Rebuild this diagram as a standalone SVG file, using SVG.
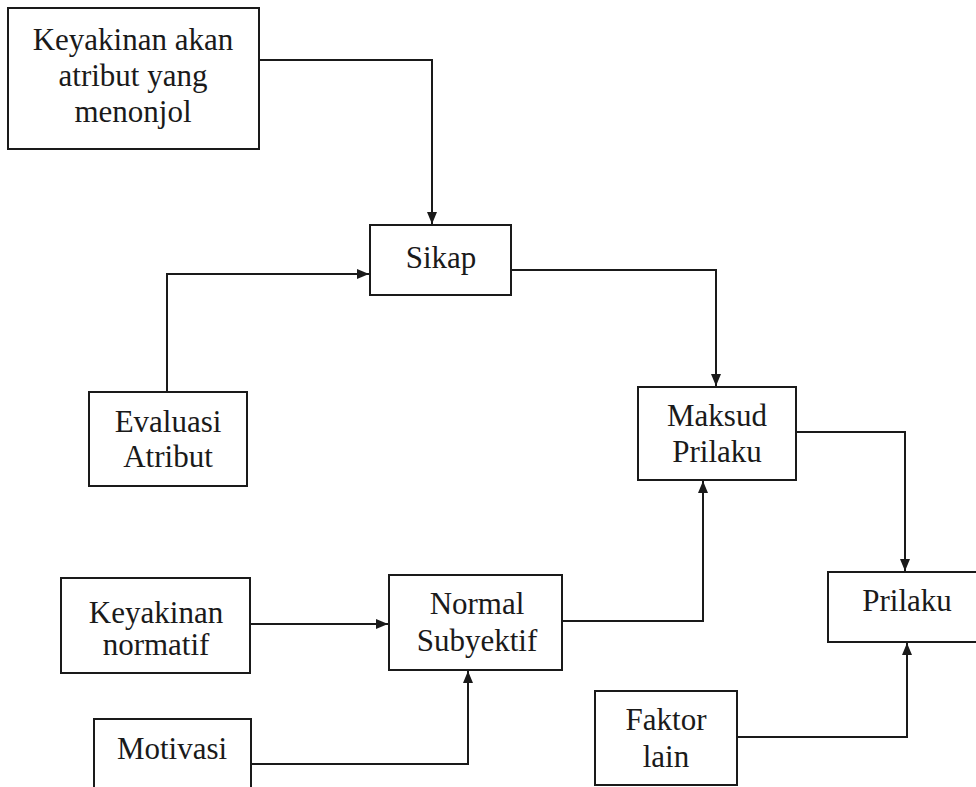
<svg xmlns="http://www.w3.org/2000/svg" width="976" height="787" viewBox="0 0 976 787">
<style>
.box{fill:#fff;stroke:#1a1a1a;stroke-width:2}
.t{font-family:'Liberation Serif','Times New Roman',serif;font-size:31px;fill:#1a1a1a;text-anchor:middle}
.c{fill:none;stroke:#1a1a1a;stroke-width:2}
</style>
<defs>
<marker id="ah" viewBox="0 0 12 10" refX="12" refY="5" markerWidth="12" markerHeight="10" markerUnits="userSpaceOnUse" orient="auto">
<path d="M0,0 L12,5 L0,10 Z" fill="#1a1a1a"/>
</marker>
</defs>
<rect width="976" height="787" fill="#fff"/>
<g id="connectors">
<path class="c" d="M259,60 H432 V224" marker-end="url(#ah)"/>
<path class="c" d="M167,392 V274 H369" marker-end="url(#ah)"/>
<path class="c" d="M511,270 H716 V386" marker-end="url(#ah)"/>
<path class="c" d="M796,432 H905 V571" marker-end="url(#ah)"/>
<path class="c" d="M250,624 H388" marker-end="url(#ah)"/>
<path class="c" d="M251,764 H468 V671" marker-end="url(#ah)"/>
<path class="c" d="M562,621 H703 V481" marker-end="url(#ah)"/>
<path class="c" d="M737,737 H907 V643" marker-end="url(#ah)"/>
</g>
<g id="keyakinan-atribut">
<rect class="box" x="8" y="8" width="251" height="141"/>
<text class="t" x="133" y="50">Keyakinan akan</text>
<text class="t" x="133" y="86">atribut yang</text>
<text class="t" x="133" y="122">menonjol</text>
</g>
<g id="sikap">
<rect class="box" x="370" y="225" width="141" height="70"/>
<text class="t" x="441" y="268">Sikap</text>
</g>
<g id="evaluasi-atribut">
<rect class="box" x="89" y="392" width="158" height="94"/>
<text class="t" x="168" y="432">Evaluasi</text>
<text class="t" x="168" y="467">Atribut</text>
</g>
<g id="maksud-prilaku">
<rect class="box" x="638" y="387" width="158" height="93"/>
<text class="t" x="717" y="426">Maksud</text>
<text class="t" x="717" y="462">Prilaku</text>
</g>
<g id="prilaku">
<rect class="box" x="828" y="572" width="160" height="70"/>
<text class="t" x="907" y="611">Prilaku</text>
</g>
<g id="keyakinan-normatif">
<rect class="box" x="61" y="578" width="189" height="95"/>
<text class="t" x="156" y="623">Keyakinan</text>
<text class="t" x="156" y="655">normatif</text>
</g>
<g id="normal-subyektif">
<rect class="box" x="389" y="575" width="173" height="95"/>
<text class="t" x="477" y="614">Normal</text>
<text class="t" x="477" y="651">Subyektif</text>
</g>
<g id="motivasi">
<rect class="box" x="94" y="719" width="157" height="80"/>
<text class="t" x="172" y="759">Motivasi</text>
</g>
<g id="faktor-lain">
<rect class="box" x="595" y="691" width="142" height="94"/>
<text class="t" x="666" y="730">Faktor</text>
<text class="t" x="666" y="767">lain</text>
</g>
</svg>
